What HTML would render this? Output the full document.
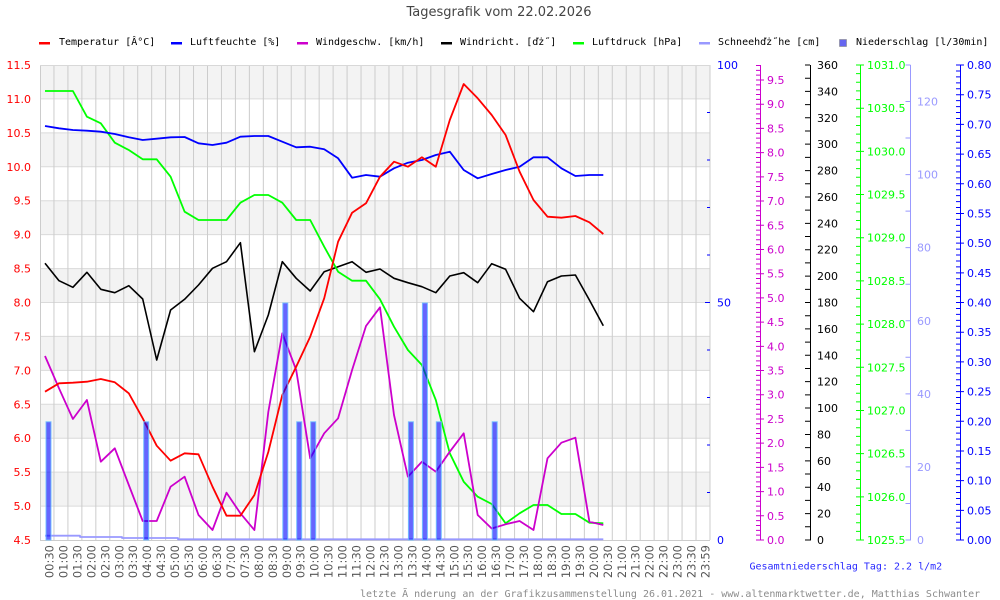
<!DOCTYPE html>
<html><head><meta charset="utf-8"><style>
html,body{margin:0;padding:0;background:#fff;}
svg{display:block;}
.lg{font-family:"DejaVu Sans Mono","Liberation Mono",monospace;font-size:10px;fill:#000;}
.ax{font-family:"DejaVu Sans","Liberation Sans",sans-serif;font-size:11px;}
.xl{font-family:"DejaVu Sans","Liberation Sans",sans-serif;font-size:11.5px;fill:#555;}
</style></head><body>
<svg width="1000" height="600" viewBox="0 0 1000 600" xmlns="http://www.w3.org/2000/svg">
<rect x="0" y="0" width="1000" height="600" fill="#fff"/>
<text x="499" y="16" text-anchor="middle" font-family="DejaVu Sans, Liberation Sans, sans-serif" font-size="13" fill="#444">Tagesgrafik vom 22.02.2026</text>

<!-- legend -->
<g class="lg">
<rect x="39" y="42" width="11" height="2.5" fill="#ff0000"/><text x="59" y="45">Temperatur [Â°C]</text>
<rect x="171" y="42" width="11" height="2.5" fill="#0000ff"/><text x="190" y="45">Luftfeuchte [%]</text>
<rect x="297" y="42" width="11" height="2.5" fill="#cc00cc"/><text x="316" y="45">Windgeschw. [km/h]</text>
<rect x="441" y="42" width="11" height="2.5" fill="#000"/><text x="460" y="45">Windricht. [ďż˝]</text>
<rect x="573" y="42" width="11" height="2.5" fill="#00ff00"/><text x="592" y="45">Luftdruck [hPa]</text>
<rect x="699" y="42" width="11" height="2.5" fill="#9999ff"/><text x="718" y="45">Schneehďż˝he [cm]</text>
<rect x="839.5" y="39.5" width="7" height="7" fill="#6666f0" stroke="#888" stroke-width="0.6"/><text x="856" y="45">Niederschlag [l/30min]</text>
</g>

<!-- plot bands -->
<g fill="#f3f3f3">
<rect x="40" y="65" width="670" height="33.93"/>
<rect x="40" y="132.86" width="670" height="33.93"/>
<rect x="40" y="200.71" width="670" height="33.93"/>
<rect x="40" y="268.57" width="670" height="33.93"/>
<rect x="40" y="336.43" width="670" height="33.93"/>
<rect x="40" y="404.29" width="670" height="33.93"/>
<rect x="40" y="472.14" width="670" height="33.93"/>
</g>
<!-- horizontal grid -->
<g stroke="#dadada" stroke-width="1">
<line x1="40" y1="65.5" x2="710" y2="65.5"/>
<line x1="40" y1="98.93" x2="710" y2="98.93"/>
<line x1="40" y1="132.86" x2="710" y2="132.86"/>
<line x1="40" y1="166.79" x2="710" y2="166.79"/>
<line x1="40" y1="200.71" x2="710" y2="200.71"/>
<line x1="40" y1="234.64" x2="710" y2="234.64"/>
<line x1="40" y1="268.57" x2="710" y2="268.57"/>
<line x1="40" y1="302.5" x2="710" y2="302.5"/>
<line x1="40" y1="336.43" x2="710" y2="336.43"/>
<line x1="40" y1="370.36" x2="710" y2="370.36"/>
<line x1="40" y1="404.29" x2="710" y2="404.29"/>
<line x1="40" y1="438.21" x2="710" y2="438.21"/>
<line x1="40" y1="472.14" x2="710" y2="472.14"/>
<line x1="40" y1="506.07" x2="710" y2="506.07"/>
</g>
<!-- vertical grid via dashed stripe -->
<line x1="53.46" y1="302.5" x2="711" y2="302.5" stroke="#cccccc" stroke-width="475" stroke-dasharray="1 12.958"/>
<!-- frame -->
<line x1="40.5" y1="65" x2="40.5" y2="540" stroke="#cccccc"/>
<line x1="40" y1="540.5" x2="710" y2="540.5" stroke="#cccccc"/>
<line x1="40" y1="65.5" x2="710" y2="65.5" stroke="#d8d8d8"/>

<!-- humidity ticks at right plot edge -->
<g stroke="#0000ff" stroke-width="1">
<line x1="707" y1="112.5" x2="710" y2="112.5"/>
<line x1="707" y1="160" x2="710" y2="160"/>
<line x1="707" y1="207.5" x2="710" y2="207.5"/>
<line x1="707" y1="255" x2="710" y2="255"/>
<line x1="705" y1="302.5" x2="710" y2="302.5"/>
<line x1="707" y1="350" x2="710" y2="350"/>
<line x1="707" y1="397.5" x2="710" y2="397.5"/>
<line x1="707" y1="445" x2="710" y2="445"/>
<line x1="707" y1="492.5" x2="710" y2="492.5"/>
</g>

<!-- series -->
<g fill="none" stroke-width="1.8" stroke-linejoin="round">
<polyline stroke="#9999ff" points="45,535.7 80,535.7 80,537 122,537 122,538 178,538 178,539.3 603.3,539.3"/>
<polyline stroke="#000000" stroke-width="1.6" points="45,263.3 59,280.7 72.9,287.3 86.9,272.3 100.8,289.3 114.8,292.7 128.8,285.7 142.7,299 156.7,360 170.6,310 184.6,299.3 198.5,285 212.5,268.3 226.5,261.7 240.4,242.7 254.4,351.7 268.3,315 282.3,261.7 296.2,278.3 310.2,291 324.2,271.7 338.1,266.7 352.1,261.7 366,272.3 380,269 394,278.3 407.9,282.7 421.9,286.7 435.8,292.7 449.8,276 463.7,272.7 477.7,282.7 491.7,263.7 505.6,269.3 519.6,298.3 533.5,311.7 547.5,281.7 561.4,276 575.4,275 589.4,300 603.3,325.7"/>
<polyline stroke="#00ff00" points="45,91 59,91 72.9,91 86.9,116.7 100.8,123.3 114.8,142.7 128.8,150 142.7,159.3 156.7,159.3 170.6,176.7 184.6,211.7 198.5,220 212.5,220 226.5,220 240.4,202.7 254.4,195 268.3,195 282.3,202.7 296.2,220 310.2,220 324.2,246.7 338.1,271.7 352.1,280.7 366,280.7 380,299.3 394,326.7 407.9,350 421.9,365 435.8,400 449.8,453.3 463.7,481.7 477.7,496.7 491.7,504 505.6,523.3 519.6,513.3 533.5,505 547.5,505 561.4,514 575.4,514 589.4,522.7 603.3,523.3"/>
<polyline stroke="#cc00cc" points="45,356 59,388.3 72.9,419 86.9,400 100.8,461.7 114.8,448.3 128.8,485 142.7,521 156.7,521 170.6,486.7 184.6,476.7 198.5,515 212.5,530 226.5,492.7 240.4,513.3 254.4,530 268.3,412 282.3,333.3 296.2,370 310.2,458.3 324.2,433.3 338.1,418.3 352.1,370 366,326 380,307.3 394,415 407.9,476.7 421.9,461.7 435.8,471.7 449.8,451.7 463.7,433.3 477.7,515 491.7,528.5 505.6,524.3 519.6,521 533.5,530 547.5,458.3 561.4,442.7 575.4,437.7 589.4,521.7 603.3,525"/>
<polyline stroke="#0000ff" points="45,126 59,128.3 72.9,130 86.9,130.7 100.8,131.7 114.8,134 128.8,137.3 142.7,140 156.7,138.7 170.6,137.3 184.6,137 198.5,143.3 212.5,145 226.5,142.7 240.4,136.7 254.4,136 268.3,136 282.3,141.7 296.2,147.3 310.2,146.7 324.2,149.3 338.1,158.3 352.1,177.7 366,175 380,176.7 394,168.3 407.9,162.7 421.9,160 435.8,155 449.8,151.7 463.7,170 477.7,178.3 491.7,174 505.6,170 519.6,166.7 533.5,157.3 547.5,157.3 561.4,168.3 575.4,176 589.4,175 603.3,175"/>
<polyline stroke="#ff0000" points="45,391.7 59,383.3 72.9,382.7 86.9,381.7 100.8,379 114.8,382.3 128.8,393.3 142.7,418.3 156.7,445.7 170.6,460.7 184.6,453.3 198.5,454.3 212.5,486.7 226.5,515.7 240.4,515.7 254.4,495 268.3,452 282.3,395 296.2,366.7 310.2,336.7 324.2,298.3 338.1,241.7 352.1,212.7 366,203.3 380,176.7 394,161.7 407.9,166.7 421.9,157.3 435.8,166.7 449.8,120 463.7,84 477.7,98.3 491.7,115 505.6,135 519.6,171.7 533.5,200 547.5,216.7 561.4,217.7 575.4,216 589.4,222.3 603.3,234"/>
</g>

<!-- precipitation bars -->
<g fill="rgba(0,0,255,0.6)" stroke="rgba(110,190,255,0.9)" stroke-width="1">
<rect x="46" y="421.8" width="5" height="118.2"/>
<rect x="143.7" y="421.8" width="5" height="118.2"/>
<rect x="282.8" y="303" width="5" height="237"/>
<rect x="296.7" y="421.8" width="5" height="118.2"/>
<rect x="310.7" y="421.8" width="5" height="118.2"/>
<rect x="408.4" y="421.8" width="5" height="118.2"/>
<rect x="422.4" y="303" width="5" height="237"/>
<rect x="436.3" y="421.8" width="5" height="118.2"/>
<rect x="492.2" y="421.8" width="5" height="118.2"/>
</g>

<!-- left axis labels -->
<g class="ax" fill="#ff0000" text-anchor="end">
<text x="31" y="69">11.5</text>
<text x="31" y="102.9">11.0</text>
<text x="31" y="136.9">10.5</text>
<text x="31" y="170.8">10.0</text>
<text x="31" y="204.7">9.5</text>
<text x="31" y="238.6">9.0</text>
<text x="31" y="272.6">8.5</text>
<text x="31" y="306.5">8.0</text>
<text x="31" y="340.4">7.5</text>
<text x="31" y="374.4">7.0</text>
<text x="31" y="408.3">6.5</text>
<text x="31" y="442.2">6.0</text>
<text x="31" y="476.1">5.5</text>
<text x="31" y="510.1">5.0</text>
<text x="31" y="544">4.5</text>
</g>

<!-- humidity labels -->
<g class="ax" fill="#0000ff">
<text x="717" y="69">100</text>
<text x="717" y="306.5">50</text>
<text x="717" y="544">0</text>
</g>

<!-- wind speed axis -->
<line x1="760.5" y1="65" x2="760.5" y2="540.5" stroke="#cc00cc"/>
<line x1="758" y1="540.5" x2="758" y2="65" stroke="#cc00cc" stroke-width="4" stroke-dasharray="1 3.842"/>
<line x1="762" y1="540.5" x2="762" y2="70" stroke="#cc00cc" stroke-width="4" stroke-dasharray="1 23.21"/>
<g class="ax" fill="#cc00cc">
<text x="767" y="544">0.0</text>
<text x="767" y="519.8">0.5</text>
<text x="767" y="495.6">1.0</text>
<text x="767" y="471.4">1.5</text>
<text x="767" y="447.2">2.0</text>
<text x="767" y="422.9">2.5</text>
<text x="767" y="398.7">3.0</text>
<text x="767" y="374.5">3.5</text>
<text x="767" y="350.3">4.0</text>
<text x="767" y="326.1">4.5</text>
<text x="767" y="301.9">5.0</text>
<text x="767" y="277.7">5.5</text>
<text x="767" y="253.5">6.0</text>
<text x="767" y="229.3">6.5</text>
<text x="767" y="205.1">7.0</text>
<text x="767" y="180.8">7.5</text>
<text x="767" y="156.6">8.0</text>
<text x="767" y="132.4">8.5</text>
<text x="767" y="108.2">9.0</text>
<text x="767" y="84">9.5</text>
</g>

<!-- wind direction axis -->
<line x1="810.5" y1="65" x2="810.5" y2="540.5" stroke="#000"/>
<line x1="807.5" y1="540.5" x2="807.5" y2="64" stroke="#000" stroke-width="5" stroke-dasharray="1 12.194"/>
<g class="ax" fill="#000">
<text x="817" y="544">0</text>
<text x="817" y="517.6">20</text>
<text x="817" y="491.2">40</text>
<text x="817" y="464.8">60</text>
<text x="817" y="438.4">80</text>
<text x="817" y="412.1">100</text>
<text x="817" y="385.7">120</text>
<text x="817" y="359.3">140</text>
<text x="817" y="332.9">160</text>
<text x="817" y="306.5">180</text>
<text x="817" y="280.1">200</text>
<text x="817" y="253.7">220</text>
<text x="817" y="227.3">240</text>
<text x="817" y="200.9">260</text>
<text x="817" y="174.6">280</text>
<text x="817" y="148.2">300</text>
<text x="817" y="121.8">320</text>
<text x="817" y="95.4">340</text>
<text x="817" y="69">360</text>
</g>

<!-- pressure axis -->
<line x1="860.5" y1="65" x2="860.5" y2="540.5" stroke="#00ff00"/>
<line x1="858" y1="540.5" x2="858" y2="64" stroke="#00ff00" stroke-width="4" stroke-dasharray="1 7.636"/>
<line x1="862" y1="540.5" x2="862" y2="64" stroke="#00ff00" stroke-width="4" stroke-dasharray="1 42.18"/>
<g class="ax" fill="#00ff00">
<text x="867" y="544">1025.5</text>
<text x="867" y="500.8">1026.0</text>
<text x="867" y="457.6">1026.5</text>
<text x="867" y="414.5">1027.0</text>
<text x="867" y="371.3">1027.5</text>
<text x="867" y="328.1">1028.0</text>
<text x="867" y="284.9">1028.5</text>
<text x="867" y="241.7">1029.0</text>
<text x="867" y="198.5">1029.5</text>
<text x="867" y="155.4">1030.0</text>
<text x="867" y="112.2">1030.5</text>
<text x="867" y="69">1031.0</text>
</g>

<!-- snow axis -->
<line x1="910.5" y1="65" x2="910.5" y2="540.5" stroke="#9999ff"/>
<line x1="908" y1="540.5" x2="908" y2="64" stroke="#9999ff" stroke-width="5" stroke-dasharray="1 35.54"/>
<g class="ax" fill="#9999ff">
<text x="917" y="544">0</text>
<text x="917" y="470.9">20</text>
<text x="917" y="397.8">40</text>
<text x="917" y="324.8">60</text>
<text x="917" y="251.7">80</text>
<text x="917" y="178.6">100</text>
<text x="917" y="105.5">120</text>
</g>

<!-- precipitation axis -->
<line x1="960.5" y1="65" x2="960.5" y2="540.5" stroke="#0000ff"/>
<line x1="958" y1="540.5" x2="958" y2="64" stroke="#0000ff" stroke-width="4" stroke-dasharray="1 4.9375"/>
<line x1="962" y1="540.5" x2="962" y2="64" stroke="#0000ff" stroke-width="4" stroke-dasharray="1 28.6875"/>
<g class="ax" fill="#0000ff">
<text x="967" y="544">0.00</text>
<text x="967" y="514.3">0.05</text>
<text x="967" y="484.6">0.10</text>
<text x="967" y="454.9">0.15</text>
<text x="967" y="425.3">0.20</text>
<text x="967" y="395.6">0.25</text>
<text x="967" y="365.9">0.30</text>
<text x="967" y="336.2">0.35</text>
<text x="967" y="306.5">0.40</text>
<text x="967" y="276.8">0.45</text>
<text x="967" y="247.1">0.50</text>
<text x="967" y="217.4">0.55</text>
<text x="967" y="187.8">0.60</text>
<text x="967" y="158.1">0.65</text>
<text x="967" y="128.4">0.70</text>
<text x="967" y="98.7">0.75</text>
<text x="967" y="69">0.80</text>
</g>

<!-- x labels -->
<g class="xl" text-anchor="end">
<text transform="translate(53.5,545) rotate(-90)">00:30</text>
<text transform="translate(67.4,545) rotate(-90)">01:00</text>
<text transform="translate(81.4,545) rotate(-90)">01:30</text>
<text transform="translate(95.3,545) rotate(-90)">02:00</text>
<text transform="translate(109.3,545) rotate(-90)">02:30</text>
<text transform="translate(123.3,545) rotate(-90)">03:00</text>
<text transform="translate(137.2,545) rotate(-90)">03:30</text>
<text transform="translate(151.2,545) rotate(-90)">04:00</text>
<text transform="translate(165.1,545) rotate(-90)">04:30</text>
<text transform="translate(179.1,545) rotate(-90)">05:00</text>
<text transform="translate(193,545) rotate(-90)">05:30</text>
<text transform="translate(207,545) rotate(-90)">06:00</text>
<text transform="translate(221,545) rotate(-90)">06:30</text>
<text transform="translate(234.9,545) rotate(-90)">07:00</text>
<text transform="translate(248.9,545) rotate(-90)">07:30</text>
<text transform="translate(262.8,545) rotate(-90)">08:00</text>
<text transform="translate(276.8,545) rotate(-90)">08:30</text>
<text transform="translate(290.8,545) rotate(-90)">09:00</text>
<text transform="translate(304.7,545) rotate(-90)">09:30</text>
<text transform="translate(318.7,545) rotate(-90)">10:00</text>
<text transform="translate(332.6,545) rotate(-90)">10:30</text>
<text transform="translate(346.6,545) rotate(-90)">11:00</text>
<text transform="translate(360.5,545) rotate(-90)">11:30</text>
<text transform="translate(374.5,545) rotate(-90)">12:00</text>
<text transform="translate(388.5,545) rotate(-90)">12:30</text>
<text transform="translate(402.4,545) rotate(-90)">13:00</text>
<text transform="translate(416.4,545) rotate(-90)">13:30</text>
<text transform="translate(430.3,545) rotate(-90)">14:00</text>
<text transform="translate(444.3,545) rotate(-90)">14:30</text>
<text transform="translate(458.3,545) rotate(-90)">15:00</text>
<text transform="translate(472.2,545) rotate(-90)">15:30</text>
<text transform="translate(486.2,545) rotate(-90)">16:00</text>
<text transform="translate(500.1,545) rotate(-90)">16:30</text>
<text transform="translate(514.1,545) rotate(-90)">17:00</text>
<text transform="translate(528,545) rotate(-90)">17:30</text>
<text transform="translate(542,545) rotate(-90)">18:00</text>
<text transform="translate(556,545) rotate(-90)">18:30</text>
<text transform="translate(569.9,545) rotate(-90)">19:00</text>
<text transform="translate(583.9,545) rotate(-90)">19:30</text>
<text transform="translate(597.8,545) rotate(-90)">20:00</text>
<text transform="translate(611.8,545) rotate(-90)">20:30</text>
<text transform="translate(625.8,545) rotate(-90)">21:00</text>
<text transform="translate(639.7,545) rotate(-90)">21:30</text>
<text transform="translate(653.7,545) rotate(-90)">22:00</text>
<text transform="translate(667.6,545) rotate(-90)">22:30</text>
<text transform="translate(681.6,545) rotate(-90)">23:00</text>
<text transform="translate(695.5,545) rotate(-90)">23:30</text>
<text transform="translate(709.5,545) rotate(-90)">23:59</text>
</g>

<!-- footers -->
<text x="749.5" y="569.5" class="lg" style="fill:#2a2aff">Gesamtniederschlag Tag: 2.2 l/m2</text>
<text x="360" y="597" class="lg" style="fill:#8c8c8c">letzte Ã nderung an der Grafikzusammenstellung 26.01.2021 - www.altenmarktwetter.de, Matthias Schwanter</text>
</svg>
</body></html>
